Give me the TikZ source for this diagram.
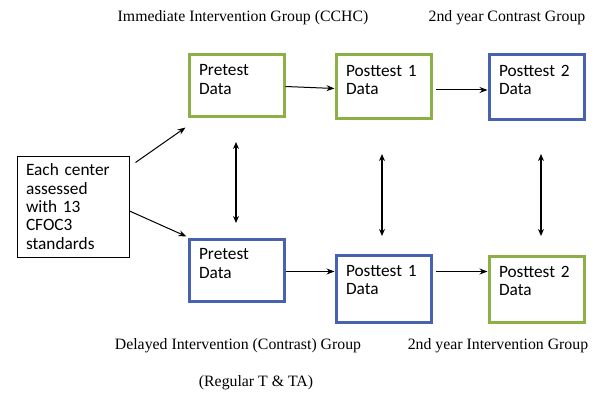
\documentclass[tikz,border=0pt]{standalone}
\usepackage{fontspec}
\setmainfont{Liberation Serif}
\newfontfamily\boxfont{Carlito}
\usetikzlibrary{arrows.meta}
\definecolor{grn}{RGB}{140,176,70}
\definecolor{blu}{RGB}{72,98,176}
\begin{document}
\begin{tikzpicture}[x=1pt,y=-1pt,
  databox/.style={draw,line width=3pt,anchor=north west,align=left,
    text width=75pt,inner xsep=10pt,inner ysep=8pt,
    font=\boxfont\fontsize{17.3}{18.5}\selectfont},
  gbox/.style={databox,draw=grn},
  bbox/.style={databox,draw=blu},
  pad/.style={execute at end node={\endgraf\vspace*{#1}}},
  lbl/.style={font=\fontsize{15.8}{18}\selectfont,inner sep=0pt},
  arr/.style={line width=1pt,-{Stealth[length=8pt,width=6pt]}},
  dbl/.style={line width=2pt,{Stealth[length=7pt,width=6pt]}-{Stealth[length=7pt,width=6pt]}}]
\useasboundingbox (0,0) rectangle (599,393);
\fill[white] (0,0) rectangle (599,393);
% labels
\node[lbl] (l1) at (243,18) {Immediate Intervention Group (CCHC)};
\node[lbl] (l2) at (507,18) {2nd year Contrast Group};
\node[lbl] (l3) at (238,346) {Delayed Intervention (Contrast) Group};
\node[lbl] (l4) at (498,346) {2nd year Intervention Group};
\node[lbl] (l5) at (256,383) {(Regular T \& TA)};
% boxes
\node[gbox,minimum height=62pt,pad=12.5pt] (tpre) at (187.5,53.5) {Pretest\\Data};
\node[gbox,minimum height=64pt,pad=14.5pt] (tp1) at (334.5,53.5) {Posttest 1\\Data};
\node[bbox,minimum height=65pt,pad=15.5pt] (tp2) at (487.5,53.5) {Posttest 2\\Data};
\node[bbox,minimum height=62pt,pad=12.5pt] (bpre) at (187.5,237.5) {Pretest\\Data};
\node[bbox,minimum height=67pt,pad=17.5pt] (bp1) at (334.5,253.5) {Posttest 1\\Data};
\node[gbox,minimum height=66pt,pad=16.5pt] (bp2) at (487.5,254.5) {Posttest 2\\Data};
\node[draw,line width=1pt,anchor=north west,align=left,text width=94pt,
  minimum height=101pt,inner xsep=9pt,inner ysep=2pt,
  font=\boxfont\fontsize{17.3}{18.3}\selectfont] (lb) at (16.5,155.5)
  {Each center\\assessed\\with 13\\CFOC3\\standards};
% arrows from the left box
\draw[arr] ([xshift=6pt,yshift=-7pt]lb.north east) -- ([xshift=-2pt,yshift=-9pt]tpre.south west);
\draw[arr] ([yshift=-4.5pt]lb.east) -- ([xshift=-1pt,yshift=1pt]bpre.north west);
% horizontal arrows
\draw[arr] ([yshift=-0.5pt]tpre.east) -- ([yshift=-1.5pt]tp1.west);
\draw[arr] ([xshift=3pt,yshift=-3pt]tp1.east) -- ([yshift=-3pt]tp1.east -| tp2.west);
\draw[arr] ([yshift=-1.5pt]bpre.east) -- ([yshift=-1.5pt]bpre.east -| bp1.west);
\draw[arr] ([xshift=3pt,yshift=-1.5pt]bpre.east -| bp1.east) -- ([yshift=-1.5pt]bpre.east -| bp2.west);
% vertical double arrows
\coordinate (v1a) at (236,142);
\coordinate (v1b) at (236,223);
\coordinate (v2a) at (382,154);
\coordinate (v2b) at (382,236);
\coordinate (v3a) at (541,154);
\coordinate (v3b) at (541,236);
\draw[dbl] (v1a) -- (v1b);
\draw[dbl] (v2a) -- (v2b);
\draw[dbl] (v3a) -- (v3b);
\end{tikzpicture}
\end{document}
